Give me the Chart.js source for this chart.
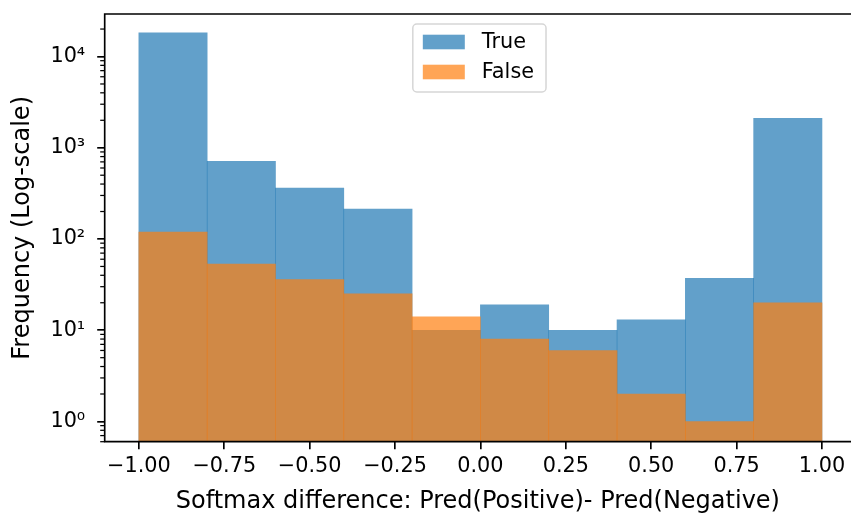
<!DOCTYPE html>
<html><head><meta charset="utf-8">
<script src="https://cdn.jsdelivr.net/npm/chart.js@4/dist/chart.umd.min.js"></script>
<style>html,body{margin:0;padding:0;background:#fff}#wrap{width:851px;height:516px}</style>
</head><body><div id="wrap"><canvas id="c" width="851" height="516"></canvas></div>
<script>
const binCenters = [-0.9, -0.7, -0.5, -0.3, -0.1, 0.1, 0.3, 0.5, 0.7, 0.9];
const trueCounts = [18200, 712, 361, 213, 10, 19, 10, 13, 37, 2100];
const falseCounts = [119, 53, 36, 25, 14, 8, 6, 2, 1, 20];
const seriesLabels = ['True', 'False'];
const xTickValues = [-1, -0.75, -0.5, -0.25, 0, 0.25, 0.5, 0.75, 1];
const xTickLabels = ['−1.00', '−0.75', '−0.50', '−0.25', '0.00', '0.25', '0.50', '0.75', '1.00'];
const yTickValues = [1, 10, 100, 1000, 10000];
const yTickLabels = ['10⁰', '10¹', '10²', '10³', '10⁴'];
const xTitle = 'Softmax difference: Pred(Positive)- Pred(Negative)';
const yTitle = 'Frequency (Log-scale)';

const FONT = '"DejaVu Sans", sans-serif';
const TICK_PX = 20.8, TITLE_PX = 24;
const blue = 'rgba(31,119,180,0.7)';
const orange = 'rgba(255,127,14,0.7)';

const framePlugin = {
  id: 'frame',
  afterDatasetsDraw(chart) {
    const ctx = chart.ctx, ca = chart.chartArea, ys = chart.scales.y, xs = chart.scales.x;
    ctx.save();
    // minor ticks (log)
    ctx.strokeStyle = '#000'; ctx.lineWidth = 1.25;
    for (let e = -1; e <= 5; e++) {
      for (let m = 2; m <= 9; m++) {
        const v = m * Math.pow(10, e);
        if (v < ys.min || v > ys.max) continue;
        const y = ys.getPixelForValue(v);
        ctx.beginPath(); ctx.moveTo(ca.left - 4.5, y); ctx.lineTo(ca.left, y); ctx.stroke();
      }
    }
    // spines (right spine lies outside the picture)
    ctx.lineWidth = 1.67; ctx.strokeStyle = '#000';
    ctx.beginPath();
    ctx.moveTo(chart.width, ca.top); ctx.lineTo(ca.left, ca.top);
    ctx.lineTo(ca.left, ca.bottom); ctx.lineTo(chart.width, ca.bottom);
    ctx.stroke();
    // legend
    const colors = [blue, orange];
    ctx.font = TICK_PX + 'px ' + FONT;
    let tw = 0; seriesLabels.forEach(l => tw = Math.max(tw, ctx.measureText(l).width));
    const bw = 10 + 42 + 17 + tw + 12, bh = 68;
    const bx = xs.getPixelForValue(0) - 1 - bw / 2, by = ca.top + 10;
    ctx.beginPath();
    ctx.roundRect(bx, by, bw, bh, 4);
    ctx.fillStyle = 'rgba(255,255,255,0.8)'; ctx.fill();
    ctx.strokeStyle = '#d6d6d6'; ctx.lineWidth = 1.5; ctx.stroke();
    seriesLabels.forEach((l, i) => {
      const cy = by + 18 + i * 30;
      ctx.fillStyle = colors[i];
      ctx.fillRect(bx + 10, cy - 7.3, 42, 14.6);
      ctx.fillStyle = '#000'; ctx.textBaseline = 'middle'; ctx.textAlign = 'left';
      ctx.fillText(l, bx + 69, cy + 1);
    });
    ctx.restore();
  }
};

new Chart(document.getElementById('c'), {
  type: 'bar',
  data: {
    datasets: [
      { label: seriesLabels[0], data: binCenters.map((x, i) => ({ x, y: trueCounts[i] })), backgroundColor: blue, borderWidth: 0, order: 1 },
      { label: seriesLabels[1], data: binCenters.map((x, i) => ({ x, y: falseCounts[i] })), backgroundColor: orange, borderWidth: 0, order: 0 }
    ]
  },
  options: {
    responsive: false, animation: false, devicePixelRatio: 1,
    layout: { padding: { top: 14, right: 0, left: 0, bottom: 0 } },
    datasets: { bar: { grouped: false, barPercentage: 1, categoryPercentage: 1 } },
    plugins: { legend: { display: false }, tooltip: { enabled: false } },
    scales: {
      x: {
        type: 'linear', min: -1.1, max: 1.085, offset: false,
        grid: { offset: false, drawOnChartArea: false, drawTicks: true, tickLength: 7.5, color: '#000', lineWidth: 1.67 },
        border: { display: false },
        afterBuildTicks: s => { s.ticks = xTickValues.map(v => ({ value: v })); },
        afterFit: s => { s.height = 74.3; s.paddingLeft = 0; s.paddingRight = 0; },
        ticks: { autoSkip: false, maxRotation: 0, padding: 5, color: '#000', font: { family: FONT, size: TICK_PX },
          callback: (v, i) => xTickLabels[i] },
        title: { display: true, text: xTitle, color: '#000', font: { family: FONT, size: TITLE_PX }, padding: { top: 0, bottom: 0 } }
      },
      y: {
        type: 'logarithmic', min: 0.63, max: 29240,
        grid: { drawOnChartArea: false, drawTicks: true, tickLength: 7.5, color: '#000', lineWidth: 1.67 },
        border: { display: false },
        afterBuildTicks: s => { s.ticks = yTickValues.map(v => ({ value: v })); },
        afterFit: s => { s.width = 104.7; s.paddingTop = 0; s.paddingBottom = 0; },
        ticks: { autoSkip: false, padding: 12, color: '#000', font: { family: FONT, size: TICK_PX },
          callback: (v, i) => yTickLabels[i] },
        title: { display: true, text: yTitle, color: '#000', font: { family: FONT, size: TITLE_PX }, padding: { top: 8, bottom: 0 } }
      }
    }
  },
  plugins: [framePlugin]
});
</script>
</body></html>
